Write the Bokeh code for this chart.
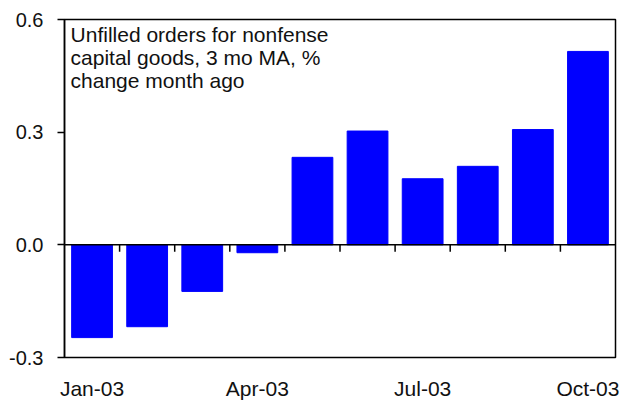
from bokeh.plotting import figure
from bokeh.models import (ColumnDataSource, FixedTicker, Label, Span,
                          NumeralTickFormatter, Range1d)
from bokeh.embed import file_html
from bokeh.resources import INLINE

months = ["Jan-03", "Feb-03", "Mar-03", "Apr-03", "May-03",
          "Jun-03", "Jul-03", "Aug-03", "Sep-03", "Oct-03"]
values = [-0.247, -0.218, -0.124, -0.021, 0.233, 0.303, 0.176, 0.209, 0.307, 0.515]
y_ticks = [-0.3, 0.0, 0.3, 0.6]
shown_labels = ["Jan-03", "Apr-03", "Jul-03", "Oct-03"]
note = "Unfilled orders for nonfense\ncapital goods, 3 mo MA, %\nchange month ago"

FONT = "Liberation Sans"
FRAME_H = 338
TICK_PX = 7

xs = [i + 0.5 for i in range(len(months))]
src = ColumnDataSource(dict(x=xs, top=values, month=months))

p = figure(frame_width=551, frame_height=FRAME_H, output_backend="svg",
           toolbar_location=None,
           x_range=Range1d(0, len(months)), y_range=Range1d(y_ticks[0], y_ticks[-1]),
           min_border_left=64, min_border_top=19, min_border_right=7,
           min_border_bottom=45)
p.background_fill_color = "white"
p.border_fill_color = "white"
p.outline_line_color = "black"
p.outline_line_width = 1.5
p.grid.visible = False

p.vbar(x="x", top="top", bottom=0, width=0.74, source=src,
       fill_color="#0000FF", line_color="#0000FF")

# zero line with small ticks at the category boundaries
p.add_layout(Span(location=0, dimension="width", line_color="black", line_width=1.5))
tick_len = (y_ticks[-1] - y_ticks[0]) * TICK_PX / FRAME_H
bounds = list(range(1, len(months)))
p.segment(x0=bounds, x1=bounds, y0=[0] * len(bounds), y1=[-tick_len] * len(bounds),
          line_color="black", line_width=1.5)

# y axis
ya = p.yaxis[0]
ya.ticker = FixedTicker(ticks=y_ticks)
ya.formatter = NumeralTickFormatter(format="0.0")
ya.major_tick_out = TICK_PX
ya.major_tick_in = 0
ya.minor_tick_line_color = None
ya.axis_line_color = "black"
ya.axis_line_width = 1.5
ya.major_tick_line_width = 1.5
ya.major_label_standoff = 14
ya.major_label_text_font = FONT
ya.major_label_text_font_size = "20px"
ya.major_label_text_color = "#111111"

# x axis (labels only, below frame)
xa = p.xaxis[0]
label_pos = [xs[months.index(m)] for m in shown_labels]
xa.ticker = FixedTicker(ticks=label_pos)
xa.major_label_overrides = {pos: m for pos, m in zip(label_pos, shown_labels)}
xa.major_tick_out = 0
xa.major_tick_in = 0
xa.minor_tick_line_color = None
xa.axis_line_color = None
xa.major_label_standoff = 19
xa.major_label_text_font = FONT
xa.major_label_text_font_size = "21px"
xa.major_label_text_color = "#111111"

p.add_layout(Label(x=0.11, y=y_ticks[-1], y_offset=-3, text=note, text_baseline="top",
                   text_font=FONT, text_font_size="21px", text_color="#111111",
                   text_line_height=1.0))

open("out.html", "w").write(file_html(p, INLINE))
